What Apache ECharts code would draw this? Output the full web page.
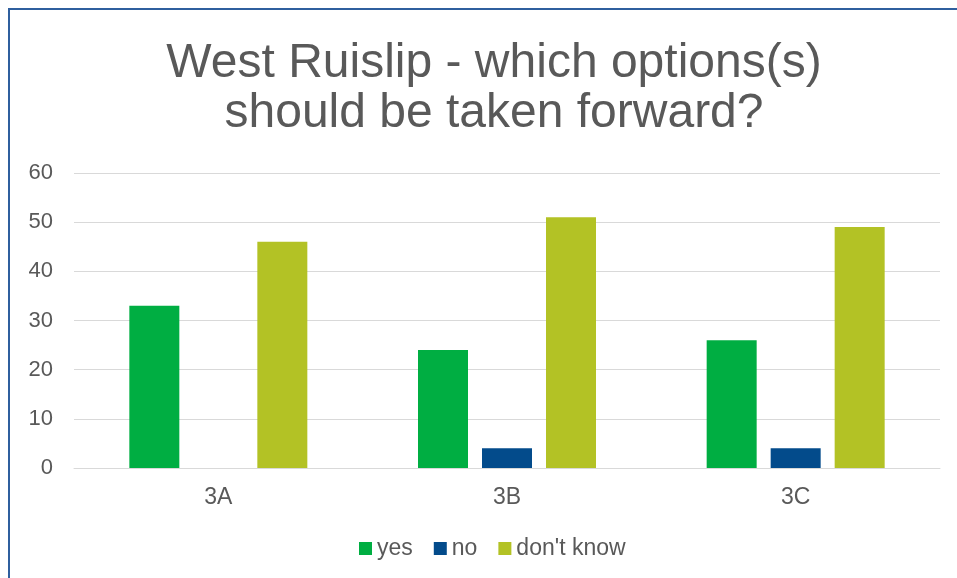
<!DOCTYPE html>
<html><head><meta charset="utf-8">
<script src="https://cdn.jsdelivr.net/npm/echarts@6/dist/echarts.min.js"></script>
<style>html,body{margin:0;padding:0;background:#fff}#c{width:957px;height:578px}</style>
</head><body><div id="c"></div>
<script>
const titleText = 'West Ruislip - which options(s)\nshould be taken forward?';
const categories = ['3A', '3B', '3C'];
const seriesNames = ['yes', 'no', "don't know"];
const yesValues = [33, 24, 26];
const noValues = [0, 4, 4];
const dontKnowValues = [46, 51, 49];
const colors = ['#00AE42', '#034B8B', '#B3C225'];
const font = 'Liberation Sans, Arial, sans-serif';
const chart = echarts.init(document.getElementById('c'));
chart.setOption({
  animation: false,
  title: {
    text: titleText, left: 489, textAlign: 'center', top: 34,
    textStyle: { fontFamily: font, fontSize: 48, fontWeight: 'normal', color: '#595959', lineHeight: 50 }
  },
  graphic: [{ type: 'rect', shape: { x: 9, y: 9, width: 1000, height: 1000 }, style: { fill: 'none', stroke: '#2F5F9E', lineWidth: 2 }, silent: true }],
  legend: {
    data: seriesNames, bottom: 13, left: 354, itemWidth: 13, itemHeight: 13, itemGap: 21,
    icon: 'rect',
    textStyle: { fontFamily: font, fontSize: 23, color: '#595959', padding: [0, 0, 0, 0] }
  },
  grid: { left: 74, right: 17, top: 173, bottom: 110, containLabel: false },
  xAxis: {
    type: 'category', data: categories,
    axisLine: { lineStyle: { color: '#D9D9D9', width: 1 } },
    axisTick: { show: false },
    axisLabel: { fontFamily: font, fontSize: 23, color: '#595959', margin: 18 }
  },
  yAxis: {
    type: 'value', min: 0, max: 60, interval: 10,
    axisLine: { show: false }, axisTick: { show: false },
    splitLine: { lineStyle: { color: '#D9D9D9', width: 1 } },
    axisLabel: { fontFamily: font, fontSize: 22, color: '#595959', margin: 21 }
  },
  series: [
    { name: seriesNames[0], type: 'bar', data: yesValues, itemStyle: { color: colors[0] }, barWidth: 50, barGap: '28%' },
    { name: seriesNames[1], type: 'bar', data: noValues, itemStyle: { color: colors[1] }, barWidth: 50, barGap: '28%' },
    { name: seriesNames[2], type: 'bar', data: dontKnowValues, itemStyle: { color: colors[2] }, barWidth: 50, barGap: '28%' }
  ]
});
</script></body></html>
